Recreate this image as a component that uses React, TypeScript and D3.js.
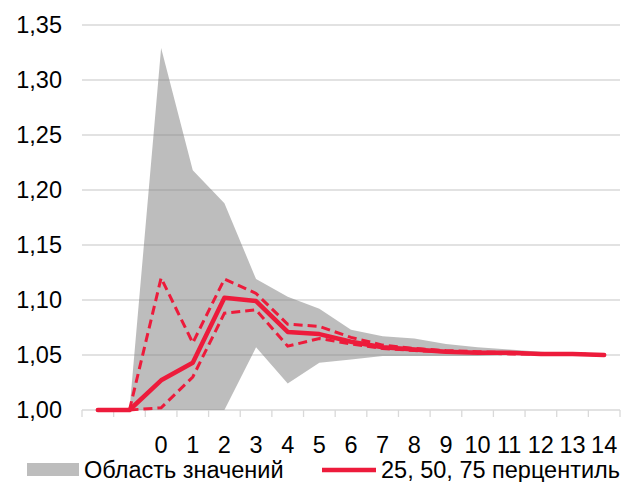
import React, { useEffect, useRef } from 'react';
import * as d3 from 'd3';

// categories: two unlabeled periods before 0, then 0..14
const categories = ['a', 'b', '0', '1', '2', '3', '4', '5', '6', '7', '8', '9', '10', '11', '12', '13', '14'];
const tickLabels = ['', '', '0', '1', '2', '3', '4', '5', '6', '7', '8', '9', '10', '11', '12', '13', '14'];
const yTicks = [1.0, 1.05, 1.1, 1.15, 1.2, 1.25, 1.3, 1.35];

const rangeMax = [1.0, 1.0, 1.329, 1.218, 1.188, 1.119, 1.103, 1.092, 1.073, 1.067, 1.065, 1.06, 1.057, 1.055, 1.053, 1.051, 1.05];
const rangeMin = [1.0, 1.0, 1.0, 1.0, 1.0, 1.057, 1.024, 1.043, 1.046, 1.049, 1.049, 1.049, 1.049, 1.05, 1.05, 1.05, 1.05];
const p50 = [1.0, 1.0, 1.027, 1.043, 1.102, 1.099, 1.071, 1.069, 1.062, 1.057, 1.055, 1.053, 1.052, 1.052, 1.051, 1.051, 1.05];
const p75 = [null, 1.0, 1.12, 1.061, 1.119, 1.106, 1.078, 1.076, 1.066, 1.059, 1.056, 1.054, 1.053, 1.052, 1.051, 1.051, 1.05];
const p25 = [null, 1.0, 1.002, 1.03, 1.088, 1.091, 1.058, 1.065, 1.06, 1.056, 1.054, 1.053, 1.052, 1.051, 1.051, 1.051, 1.05];

const RED = '#ED1B3B';
const FONT = '"Liberation Sans", Arial, sans-serif';
const FS = 23.5;

const App = () => {
  const svg = useRef(null);
  const width = 624;
  const height = 482;
  const margin = { top: 25, right: 4, bottom: 72, left: 82 };

  const renderChart = (svg: any) => {
    svg.selectAll('*').remove();

    const x = d3
      .scaleBand()
      .domain(categories)
      .range([margin.left, width - margin.right]);
    const cx = (i: number) => (x(categories[i]) as number) + x.bandwidth() / 2;

    const y = d3
      .scaleLinear()
      .domain([1.0, 1.35])
      .range([height - margin.bottom, margin.top]);

    // grid
    svg
      .append('g')
      .selectAll('line')
      .data(yTicks)
      .enter()
      .append('line')
      .attr('x1', margin.left)
      .attr('x2', width - margin.right)
      .attr('y1', (d: number) => y(d))
      .attr('y2', (d: number) => y(d))
      .attr('stroke', '#d9d9d9')
      .attr('stroke-width', 1.3);

    // x ticks at band boundaries
    const bounds = categories.map((c) => x(c) as number).concat([width - margin.right]);
    svg
      .append('g')
      .selectAll('line')
      .data(bounds)
      .enter()
      .append('line')
      .attr('x1', (d: number) => d)
      .attr('x2', (d: number) => d)
      .attr('y1', y(1.0))
      .attr('y2', y(1.0) + 7)
      .attr('stroke', '#d9d9d9')
      .attr('stroke-width', 1.3);

    // value range area
    const area = d3
      .area<number>()
      .x((_d, i) => cx(i))
      .y0((_d, i) => y(rangeMin[i]))
      .y1((d) => y(d));
    svg
      .append('path')
      .datum(rangeMax)
      .attr('d', area)
      .attr('fill', '#808080')
      .attr('fill-opacity', 0.52);

    const line = d3
      .line<number | null>()
      .defined((d) => d !== null)
      .x((_d, i) => cx(i))
      .y((d) => y(d as number));

    [p25, p75].forEach((s) => {
      svg
        .append('path')
        .datum(s)
        .attr('d', line)
        .attr('fill', 'none')
        .attr('stroke', RED)
        .attr('stroke-width', 3)
        .attr('stroke-dasharray', '9,5');
    });

    svg
      .append('path')
      .datum(p50)
      .attr('d', line)
      .attr('fill', 'none')
      .attr('stroke', RED)
      .attr('stroke-width', 4.5)
      .attr('stroke-linecap', 'round')
      .attr('stroke-linejoin', 'round');

    // y labels
    svg
      .append('g')
      .selectAll('text')
      .data(yTicks)
      .enter()
      .append('text')
      .attr('x', 62)
      .attr('y', (d: number) => y(d))
      .attr('dy', '0.36em')
      .attr('text-anchor', 'end')
      .attr('font-family', FONT)
      .attr('font-size', FS)
      .attr('fill', '#000')
      .text((d: number) => d3.format('.2f')(d).replace('.', ','));

    // x labels
    svg
      .append('g')
      .selectAll('text')
      .data(tickLabels)
      .enter()
      .append('text')
      .attr('x', (_d: string, i: number) => cx(i))
      .attr('y', 453)
      .attr('text-anchor', 'middle')
      .attr('font-family', FONT)
      .attr('font-size', FS)
      .attr('fill', '#000')
      .text((d: string) => d);

    // legend
    const lg = svg.append('g').attr('font-family', FONT).attr('font-size', FS).attr('fill', '#000');
    lg.append('rect').attr('x', 27).attr('y', 463).attr('width', 52).attr('height', 13).attr('fill', '#bdbdbd');
    lg.append('text').attr('x', 84).attr('y', 478).text('Область значений');
    lg.append('line')
      .attr('x1', 322)
      .attr('x2', 376)
      .attr('y1', 470)
      .attr('y2', 470)
      .attr('stroke', RED)
      .attr('stroke-width', 4.5);
    lg.append('text').attr('x', 381).attr('y', 478).text('25, 50, 75 перцентиль');
  };

  useEffect(() => {
    renderChart(d3.select(svg.current));
  }, []);

  return (
    <svg
      ref={svg}
      width={width}
      height={height}
      style={{ position: 'absolute', left: 0, top: 0, background: '#fff' }}
    />
  );
};

export default App;
